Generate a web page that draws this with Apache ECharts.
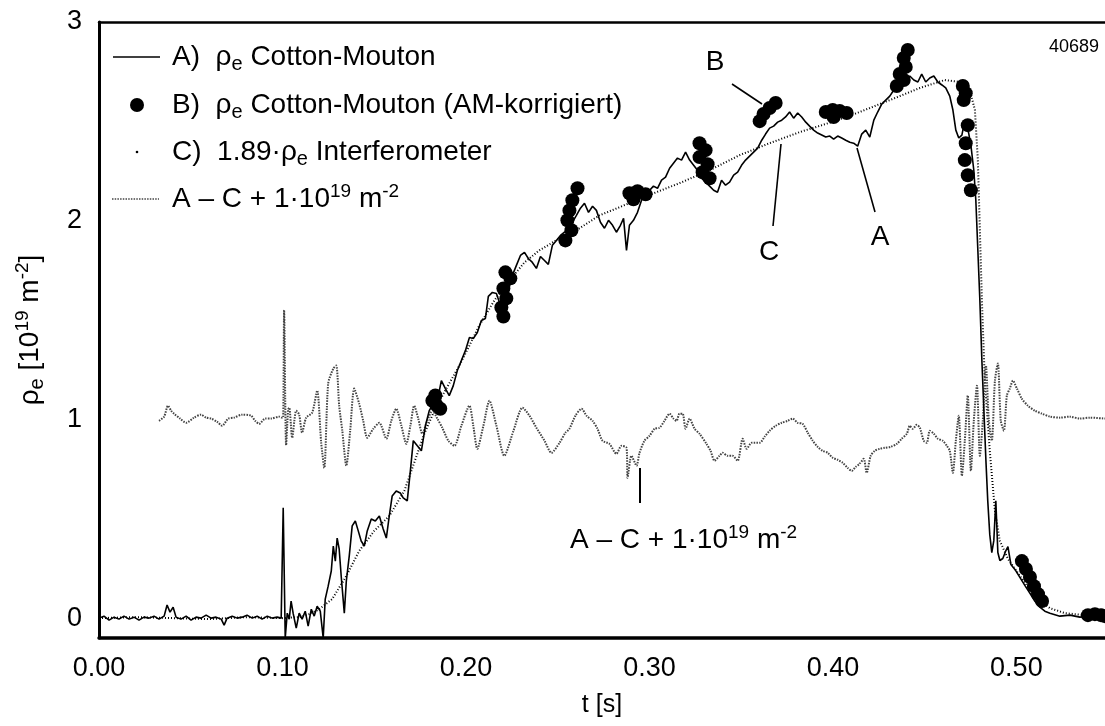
<!DOCTYPE html>
<html><head><meta charset="utf-8">
<script src="https://cdn.jsdelivr.net/npm/echarts@6/dist/echarts.min.js"></script>
<style>html,body{margin:0;padding:0;background:#fff}#c{width:1105px;height:726px}</style>
</head><body><div id="c"></div>
<script>
// ---- tick labels ----
const xTickValues = [0, 0.1, 0.2, 0.3, 0.4, 0.5];
const yTickValues = [0, 1, 2, 3];
const shotNumber = '40689';

// ---- A) rho_e Cotton-Mouton (t [s], rho_e [1e19 m^-2]) ----
const seriesA = [
[0,0],[0.0027,0.01],[0.0055,-0.01],[0.0082,0.005],[0.0109,-0.005],[0.0136,0.01],[0.0164,-0.005],[0.0191,0.005],[0.0218,-0.01],[0.0245,0.005],[0.0273,0],[0.0300,0.01],[0.0327,-0.005],[0.0355,0.01],[0.0371,0.066],[0.0387,0.03],[0.0404,0.055],[0.0420,0.005],[0.0447,-0.005],[0.0475,0.01],[0.0502,-0.01],[0.0529,0.005],[0.0556,0],[0.0584,0.015],[0.0611,0],[0.0638,0.005],[0.0666,-0.005],[0.0682,-0.035],[0.0698,0],[0.0726,0.01],[0.0753,0],[0.0780,0.005],[0.0807,0.015],[0.0835,0],[0.0862,0.01],[0.0889,-0.005],[0.0917,0.01],[0.0944,0],[0.0971,0.005],[0.0993,0],
[0.1004,0.555],[0.1015,-0.10],[0.1026,0.025],[0.1037,-0.005],[0.1047,0.086],[0.1058,0.025],[0.1075,-0.05],[0.1091,0.025],[0.1107,-0.005],[0.1124,0.035],[0.1140,-0.04],[0.1157,0.045],[0.1173,0.01],[0.1189,0.06],[0.1206,0.035],[0.1222,-0.10],[0.1233,0.096],[0.1249,0.161],[0.1266,0.237],[0.1277,0.363],[0.1288,0.287],[0.1298,0.403],[0.1309,0.348],[0.1320,0.212],[0.1337,0.025],[0.1348,0.187],[0.1364,0.313],[0.1380,0.464],[0.1397,0.489],[0.1413,0.439],[0.1429,0.388],[0.1446,0.363],[0.1462,0.439],[0.1484,0.499],[0.1506,0.489],[0.1528,0.514],[0.1549,0.449],[0.1566,0.403],[0.1582,0.514],[0.1598,0.615],[0.1620,0.640],[0.1642,0.630],[0.1658,0.605],[0.1680,0.590],[0.1697,0.741],[0.1713,0.893],[0.1735,0.867],[0.1757,0.842],[0.1779,0.968],[0.1800,1.044],[0.1822,1.079],[0.1844,1.094],[0.1866,1.195],[0.1888,1.155],[0.1909,1.120],[0.1931,1.170],[0.1953,1.246],[0.1975,1.296],[0.1997,1.346],
[0.2019,1.412],[0.2040,1.407],[0.2062,1.437],[0.2084,1.498],[0.2106,1.508],[0.2122,1.619],[0.2144,1.639],[0.2166,1.634],[0.2188,1.573],[0.2209,1.609],[0.2231,1.649],[0.2253,1.725],[0.2275,1.775],[0.2297,1.825],[0.2319,1.841],[0.2340,1.810],[0.2362,1.790],[0.2384,1.760],[0.2406,1.820],[0.2428,1.800],[0.2449,1.780],[0.2471,1.876],[0.2493,1.901],[0.2515,1.926],[0.2537,1.942],[0.2559,1.962],[0.2580,1.992],[0.2602,2.027],[0.2624,2.063],[0.2646,2.088],[0.2668,2.042],[0.2690,2.073],[0.2711,2.052],[0.2733,1.992],[0.2755,1.962],[0.2777,2.002],[0.2799,1.977],[0.2820,1.942],[0.2842,1.977],[0.2859,2.012],[0.2875,1.851],[0.2891,1.977],[0.2913,2.002],[0.2935,2.042],[0.2957,2.103],[0.2979,2.143],
[0.3001,2.153],[0.3022,2.174],[0.3044,2.163],[0.3066,2.204],[0.3088,2.219],[0.3110,2.264],[0.3131,2.289],[0.3153,2.315],[0.3175,2.305],[0.3197,2.345],[0.3219,2.305],[0.3241,2.279],[0.3262,2.254],[0.3284,2.214],[0.3306,2.194],[0.3328,2.174],[0.3350,2.153],[0.3371,2.143],[0.3393,2.204],[0.3415,2.179],[0.3437,2.194],[0.3459,2.229],[0.3481,2.244],[0.3502,2.279],[0.3524,2.305],[0.3546,2.325],[0.3568,2.345],[0.3590,2.365],[0.3612,2.405],[0.3633,2.436],[0.3655,2.466],[0.3677,2.476],[0.3699,2.496],[0.3721,2.506],[0.3742,2.522],[0.3764,2.547],[0.3786,2.516],[0.3808,2.542],[0.3830,2.522],[0.3852,2.496],[0.3873,2.476],[0.3895,2.456],[0.3917,2.441],[0.3939,2.431],[0.3961,2.421],[0.3983,2.426],
[0.4004,2.410],[0.4026,2.426],[0.4048,2.416],[0.4070,2.405],[0.4092,2.395],[0.4113,2.390],[0.4135,2.375],[0.4157,2.436],[0.4179,2.456],[0.4201,2.421],[0.4223,2.506],[0.4244,2.547],[0.4266,2.587],[0.4288,2.607],[0.4310,2.627],[0.4332,2.658],[0.4353,2.678],[0.4375,2.698],[0.4397,2.708],[0.4419,2.728],[0.4441,2.708],[0.4463,2.698],[0.4484,2.738],[0.4506,2.698],[0.4528,2.718],[0.4550,2.728],[0.4572,2.698],[0.4594,2.683],[0.4615,2.668],[0.4637,2.627],[0.4654,2.557],[0.4670,2.456],[0.4686,2.416],[0.4703,2.431],[0.4719,2.506],[0.4735,2.466],[0.4752,2.380],[0.4768,2.254],[0.4779,2.103],[0.4790,1.851],[0.4801,1.599],[0.4812,1.296],[0.4823,1.044],[0.4834,0.792],[0.4844,0.590],[0.4855,0.420],[0.4866,0.330],[0.4877,0.390],[0.4888,0.590],[0.4899,0.330],[0.4910,0.290],[0.4926,0.300],[0.4943,0.340],[0.4954,0.360],[0.4970,0.270],[0.4992,0.245],
[0.5019,0.205],[0.5046,0.165],[0.5074,0.125],[0.5101,0.085],[0.5128,0.055],[0.5155,0.035],[0.5183,0.025],[0.5237,0.01],[0.5292,0.015],[0.5346,0.005],[0.5401,0.01],[0.5455,0.005],[0.5483,0.005]
];

// ---- B) rho_e Cotton-Mouton (AM-korrigiert) ----
const seriesB = [
[0.1817,1.094],[0.1838,1.074],[0.1833,1.120],[0.1860,1.054],
[0.2215,1.740],[0.2242,1.710],[0.2204,1.659],[0.2220,1.609],[0.2193,1.563],[0.2204,1.518],
[0.2608,2.163],[0.2580,2.103],[0.2564,2.052],[0.2553,2.002],[0.2575,1.952],[0.2542,1.901],
[0.2891,2.138],[0.2935,2.148],[0.2979,2.133],[0.2913,2.108],
[0.3273,2.390],[0.3306,2.355],[0.3273,2.320],[0.3317,2.284],[0.3290,2.244],[0.3328,2.214],
[0.3688,2.592],[0.3655,2.567],[0.3622,2.537],[0.3601,2.501],
[0.3961,2.547],[0.3999,2.557],[0.4037,2.552],[0.4075,2.542],[0.4004,2.522],
[0.4408,2.859],[0.4386,2.819],[0.4397,2.774],[0.4364,2.738],[0.4386,2.708],[0.4348,2.678],
[0.4708,2.678],[0.4724,2.642],[0.4713,2.607],[0.4735,2.481],[0.4724,2.390],[0.4719,2.305],[0.4735,2.229],[0.4752,2.153],
[0.5030,0.287],[0.5052,0.247],[0.5074,0.207],[0.5096,0.161],[0.5118,0.121],[0.5140,0.086],
[0.5390,0.015],[0.5428,0.020],[0.5461,0.015],[0.5483,0.010]
];

// ---- C) 1.89 * rho_e Interferometer ----
const seriesC = [
[0,0],[0.02,0.005],[0.04,0],[0.06,-0.005],[0.08,0.005],[0.0998,0],[0.1091,0.005],[0.1146,0.02],[0.1200,0.045],[0.1271,0.096],[0.1348,0.212],[0.1418,0.338],[0.1500,0.439],[0.1582,0.514],[0.1664,0.640],[0.1718,0.782],[0.1773,0.928],[0.1828,1.044],[0.1893,1.155],[0.1964,1.271],[0.2019,1.372],[0.2073,1.473],[0.2155,1.599],[0.2237,1.699],[0.2319,1.790],[0.2400,1.851],[0.2510,1.911],[0.2619,1.962],[0.2728,2.027],[0.2837,2.068],[0.2995,2.128],[0.3164,2.189],[0.3328,2.254],[0.3492,2.330],[0.3655,2.390],[0.3819,2.446],[0.3993,2.496],[0.4146,2.547],[0.4310,2.607],[0.4474,2.668],[0.4610,2.708],[0.4692,2.698],[0.4746,2.658],[0.4774,2.557],[0.4790,2.305],[0.4801,1.952],[0.4812,1.599],[0.4828,1.195],[0.4855,0.842],[0.4883,0.540],[0.4910,0.388],[0.4954,0.298],[0.5008,0.227],[0.5063,0.156],[0.5117,0.096],[0.5183,0.050],[0.5265,0.025],[0.5374,0.015],[0.5483,0.010]
];

// ---- A - C + 1e19 m^-2 ----
const seriesD = [
[0.0327,0.993],[0.0355,1.014],[0.0376,1.069],[0.0393,1.044],[0.0409,1.029],[0.0442,1.004],[0.0475,0.983],[0.0518,1.009],[0.0556,1.024],[0.0584,1.009],[0.0611,1.004],[0.0644,0.988],[0.0671,0.968],[0.0704,1.004],[0.0736,1.009],[0.0780,1.024],[0.0829,1.019],[0.0851,0.993],[0.0873,0.978],[0.0906,1.004],[0.0938,1.004],[0.0982,1.014],[0.0998,1.009],
[0.1004,1.01],[0.1009,1.55],[0.1020,0.87],[0.1031,1.05],[0.1037,1.059],[0.1053,0.908],[0.1075,1.044],[0.1091,1.024],[0.1107,0.933],[0.1129,1.009],[0.1162,1.034],[0.1189,1.145],[0.1211,0.882],[0.1228,0.756],[0.1249,1.180],[0.1277,1.256],[0.1293,1.271],[0.1309,1.069],[0.1326,0.943],[0.1348,0.767],[0.1369,0.943],[0.1391,1.155],[0.1418,1.079],[0.1440,0.993],[0.1462,0.908],[0.1495,0.953],[0.1528,0.983],[0.1566,0.903],[0.1593,0.993],[0.1620,1.054],[0.1648,0.968],[0.1675,0.877],[0.1697,0.968],[0.1718,1.069],[0.1740,1.004],[0.1762,0.928],[0.1789,0.993],[0.1817,1.044],[0.1844,1.004],[0.1871,0.958],[0.1904,0.893],[0.1937,0.867],[0.1975,0.968],
[0.2019,1.069],[0.2040,0.968],[0.2062,0.852],[0.2095,0.968],[0.2128,1.094],[0.2166,0.968],[0.2209,0.817],[0.2259,0.943],[0.2308,1.059],[0.2346,1.019],[0.2384,0.958],[0.2428,0.893],[0.2466,0.832],[0.2510,0.882],[0.2542,0.933],[0.2564,0.953],[0.2597,1.019],[0.2630,1.054],[0.2657,1.019],[0.2690,0.993],[0.2717,0.953],[0.2744,0.893],[0.2782,0.877],[0.2820,0.827],[0.2848,0.867],[0.2875,0.857],[0.2881,0.706],[0.2902,0.817],[0.2930,0.767],[0.2946,0.832],[0.2973,0.893],
[0.3001,0.918],[0.3028,0.953],[0.3055,0.958],[0.3082,0.993],[0.3110,1.029],[0.3131,1.004],[0.3148,0.993],[0.3164,1.029],[0.3181,1.029],[0.3197,0.953],[0.3219,1.004],[0.3246,0.953],[0.3273,0.928],[0.3311,0.877],[0.3333,0.842],[0.3355,0.792],[0.3382,0.817],[0.3399,0.832],[0.3426,0.817],[0.3453,0.817],[0.3481,0.792],[0.3508,0.903],[0.3530,0.852],[0.3557,0.882],[0.3601,0.882],[0.3628,0.913],[0.3655,0.943],[0.3688,0.968],[0.3721,0.983],[0.3753,0.993],[0.3781,1.004],[0.3808,0.983],[0.3835,0.978],[0.3863,0.933],[0.3890,0.893],[0.3917,0.862],[0.3944,0.842],[0.3972,0.832],[0.3999,0.807],
[0.4026,0.797],[0.4053,0.782],[0.4081,0.756],[0.4103,0.741],[0.4124,0.761],[0.4146,0.777],[0.4168,0.802],[0.4184,0.731],[0.4206,0.817],[0.4228,0.842],[0.4255,0.852],[0.4283,0.857],[0.4315,0.862],[0.4348,0.877],[0.4375,0.903],[0.4403,0.928],[0.4419,0.968],[0.4435,0.953],[0.4457,0.973],[0.4474,0.958],[0.4495,0.893],[0.4512,0.882],[0.4528,0.943],[0.4550,0.928],[0.4572,0.903],[0.4599,0.893],[0.4621,0.867],[0.4637,0.842],[0.4654,0.731],[0.4670,0.893],[0.4686,1.019],[0.4703,0.716],[0.4719,0.893],[0.4735,1.120],[0.4752,0.741],[0.4768,0.993],[0.4785,1.170],[0.4801,0.817],[0.4817,0.993],[0.4834,1.271],[0.4850,0.993],[0.4866,0.893],[0.4883,1.195],[0.4899,1.281],[0.4915,0.993],[0.4932,0.943],[0.4948,1.120],[0.4964,1.155],[0.4981,1.195],
[0.5003,1.155],[0.5030,1.104],[0.5063,1.069],[0.5101,1.044],[0.5139,1.029],[0.5183,1.014],[0.5237,1.009],[0.5292,1.014],[0.5346,1.004],[0.5401,1.009],[0.5483,1.004]
];

const FONT = '"Liberation Sans", Arial, Helvetica, sans-serif';
const subSup = {
  sub: {fontSize: 20, fontFamily: FONT, fill: '#000', color: '#000', lineHeight: 16, verticalAlign: 'bottom'},
  sup: {fontSize: 19, fontFamily: FONT, fill: '#000', color: '#000', lineHeight: 16, verticalAlign: 'top'},
  n: {fontSize: 28, fontFamily: FONT, fill: '#000', color: '#000', lineHeight: 34}
};
const legendTexts = [
  '{n|A)  ρ}{sub|e}{n| Cotton-Mouton}',
  '{n|B)  ρ}{sub|e}{n| Cotton-Mouton (AM-korrigiert)}',
  '{n|C)  1.89·ρ}{sub|e}{n| Interferometer}',
  '{n|A – C + 1·10}{sup|19}{n| m}{sup|-2}'
];

function txt(x, y, text) {
  return {type: 'text', z: 100, style: {x: x, y: y, text: text, rich: subSup, fontFamily: FONT, fontSize: 28, fill: '#000', verticalAlign: 'middle', align: 'left'}};
}
function seg(x1, y1, x2, y2, w, dash, color) {
  return {type: 'line', z: 100, shape: {x1, y1, x2, y2}, style: {stroke: color || '#000', lineWidth: w || 1.5, lineDash: dash || null}};
}
function letter(x, y, t) {
  return {type: 'text', z: 100, style: {x: x, y: y, text: t, fontFamily: FONT, fontSize: 28, fill: '#000', align: 'center', verticalAlign: 'middle'}};
}

const graphics = [
  // legend
  seg(113, 57, 160, 57, 1.6),
  txt(172, 57, legendTexts[0]),
  {type: 'circle', z: 100, shape: {cx: 137, cy: 105, r: 7}, style: {fill: '#000'}},
  txt(172, 105, legendTexts[1]),
  {type: 'circle', z: 100, shape: {cx: 137, cy: 152, r: 1.3}, style: {fill: '#000'}},
  txt(172, 152, legendTexts[2]),
  seg(112, 199, 159, 199, 1.6, [1.5, 1.2], '#444'),
  txt(172, 199, legendTexts[3]),
  // shot number
  {type: 'text', z: 100, style: {x: 1099, y: 47, text: shotNumber, fontFamily: FONT, fontSize: 18, fill: '#000', align: 'right', verticalAlign: 'middle'}},
  // curve labels and pointers
  letter(715, 62, 'B'),
  seg(732, 84, 762, 104, 1.6),
  letter(769, 252, 'C'),
  seg(781, 144, 773, 226, 1.6),
  letter(880, 237, 'A'),
  seg(857, 148, 875, 212, 1.6),
  seg(640, 468, 640, 503, 2),
  txt(570, 540, legendTexts[3])
];

const chart = echarts.init(document.getElementById('c'), null, {renderer: 'canvas'});
chart.setOption({
  animation: false,
  backgroundColor: '#fff',
  grid: {left: 99, right: 0, top: 22, bottom: 88, containLabel: false},
  xAxis: [{
    type: 'value', min: 0, max: 0.5483, position: 'bottom',
    axisLine: {show: true, onZero: false, lineStyle: {color: '#000', width: 3.5}},
    axisTick: {show: false}, splitLine: {show: false},
    axisLabel: {customValues: xTickValues, formatter: v => v.toFixed(2), color: '#000', fontSize: 27, fontFamily: FONT, margin: 17},
    name: 't [s]', nameLocation: 'middle', nameGap: 55,
    nameTextStyle: {color: '#000', fontSize: 25, fontFamily: FONT}
  }, {
    type: 'value', min: 0, max: 0.5483, position: 'top',
    axisLine: {show: true, onZero: false, lineStyle: {color: '#000', width: 2.5}},
    axisTick: {show: false}, axisLabel: {show: false}, splitLine: {show: false}
  }],
  yAxis: {
    type: 'value', min: -0.1, max: 3,
    axisLine: {show: true, onZero: false, lineStyle: {color: '#000', width: 3}},
    axisTick: {show: false}, splitLine: {show: false},
    axisLabel: {customValues: yTickValues, color: '#000', fontSize: 27, fontFamily: FONT, margin: 17},
    name: '{n|ρ}{sub|e}{n| [10}{sup|19}{n| m}{sup|-2}{n|]}', nameLocation: 'middle', nameGap: 52, nameRotate: 90,
    nameTextStyle: {color: '#000', fontSize: 28, fontFamily: FONT, rich: subSup}
  },
  graphic: graphics,
  series: [
    {name: 'C) 1.89·ρe Interferometer', type: 'line', data: seriesC, symbol: 'none', lineStyle: {color: '#000', width: 2, type: [1, 2]}, z: 2},
    {name: 'A – C + 1·10^19 m^-2', type: 'line', data: seriesD, symbol: 'none', smooth: 0.25, lineStyle: {color: '#444', width: 2, type: [1.5, 1.2]}, z: 2},
    {name: 'A) ρe Cotton-Mouton', type: 'line', data: seriesA, symbol: 'none', lineStyle: {color: '#000', width: 1.6}, z: 3},
    {name: 'B) ρe Cotton-Mouton (AM-korrigiert)', type: 'scatter', data: seriesB, symbol: 'circle', symbolSize: 14, itemStyle: {color: '#000', opacity: 1}, z: 4}
  ]
});
</script></body></html>
